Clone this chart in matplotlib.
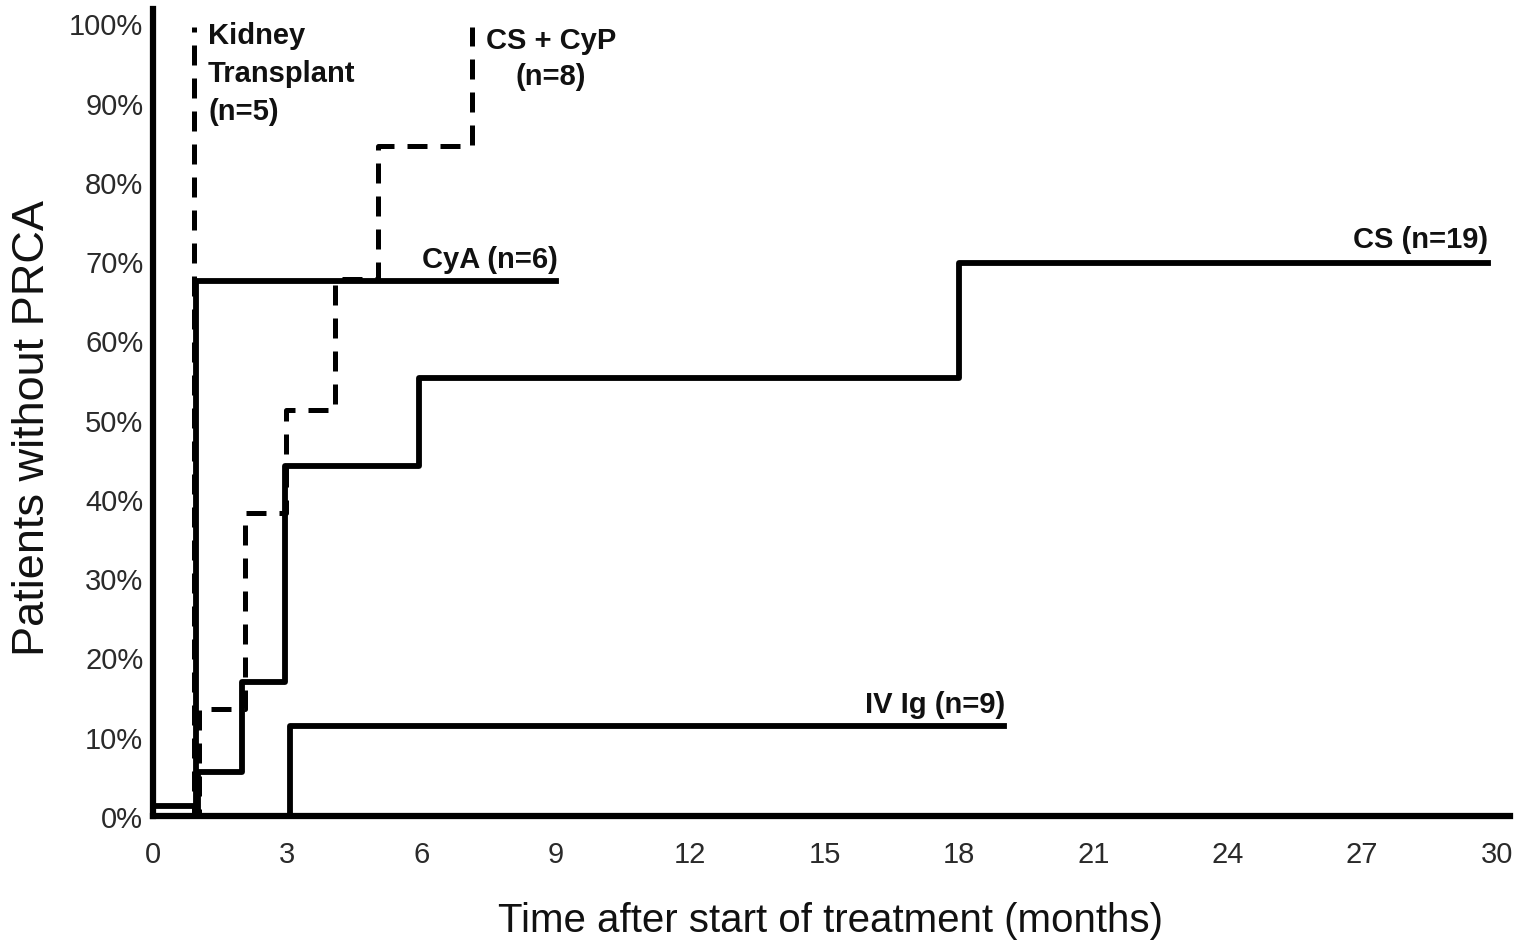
import matplotlib
matplotlib.use('Agg')
import matplotlib.pyplot as plt
from matplotlib import font_manager

# Dane (czas w miesiącach, % pacjentów bez PRCA)
cs_t = [0, 1.0, 1.98, 2.95, 5.95, 18.0, 29.8]
cs_v = [0, 5.5, 16.9, 44.2, 55.3, 69.8, 69.8]

cya_t = [0, 0.97, 9.0]
cya_v = [1.2, 67.5, 67.5]

ivig_t = [0, 3.05, 19.0]
ivig_v = [0, 11.4, 11.4]

cscyp_t = [0, 1.03, 2.05, 2.97, 4.06, 5.02, 7.12]
cscyp_v = [0, 13.5, 38.2, 51.2, 67.8, 84.5, 99.5]

kidney_t = [0, 0.92]
kidney_v = [0, 99.5]

x_ticks = list(range(0, 31, 3))
y_ticks = list(range(0, 101, 10))

names = {f.name for f in font_manager.fontManager.ttflist}
base_font = 'Liberation Sans' if 'Liberation Sans' in names else 'DejaVu Sans'
narrow_font = 'Liberation Sans Narrow' if 'Liberation Sans Narrow' in names else None
plt.rcParams['font.family'] = [base_font, 'DejaVu Sans']

fig = plt.figure(figsize=(15.16, 9.45), dpi=100)
ax = fig.add_axes([153 / 1516, 128 / 945, 1357 / 1516, 807 / 945])

lw = 4.2
ax.step(cs_t, cs_v, where='post', color='black', lw=lw, clip_on=False)
ax.step(cya_t, cya_v, where='post', color='black', lw=lw, clip_on=False)
ax.step(ivig_t, ivig_v, where='post', color='black', lw=lw, clip_on=False)
dash = (0, (4.0, 2.6))
ax.step(cscyp_t, cscyp_v, where='post', color='black', lw=3.6, linestyle=dash, clip_on=False)
ax.step(kidney_t, kidney_v, where='post', color='black', lw=3.6, linestyle=dash, clip_on=False)

ax.set_xlim(0, 30.3)
ax.set_ylim(0, 101.8)

for s in ['top', 'right']:
    ax.spines[s].set_visible(False)
for s in ['left', 'bottom']:
    ax.spines[s].set_linewidth(4.5)
    ax.spines[s].set_color('black')

ax.set_xticks(x_ticks)
ax.set_yticks(y_ticks)
ax.set_yticklabels([f'{v}%' for v in y_ticks])
if narrow_font:
    tick_kw = dict(family=narrow_font, size=24)
else:
    tick_kw = dict(family=base_font, size=21)
for lab in ax.get_xticklabels() + ax.get_yticklabels():
    lab.set_fontfamily(tick_kw['family'])
    lab.set_fontsize(tick_kw['size'])
    lab.set_color('#2a2a2a')
ax.tick_params(axis='x', length=0, pad=17)
ax.tick_params(axis='y', length=0, pad=7)

fig.text(830 / 1516, 1 - 921 / 945, 'Time after start of treatment (months)',
         ha='center', va='center', fontsize=29, color='#111111')
fig.text(33 / 1516, 1 - 428 / 945, 'Patients without PRCA', rotation=90,
         ha='center', va='center', fontsize=32.5, color='#111111')

ann = dict(fontsize=21, fontweight='bold', color='#111111')
ax.text(1.23, 100.3, 'Kidney\nTransplant\n(n=5)', ha='left', va='top', linespacing=1.45, **ann)
ax.text(8.88, 99.6, 'CS + CyP\n(n=8)', ha='center', va='top', linespacing=1.35, **ann)
ax.text(6.0, 69.2, 'CyA (n=6)', ha='left', va='baseline', **ann)
ax.text(29.82, 71.8, 'CS (n=19)', ha='right', va='baseline', **ann)
ax.text(15.9, 13.1, 'IV Ig (n=9)', ha='left', va='baseline', **ann)

fig.savefig('out.png', dpi=100, facecolor='white')
